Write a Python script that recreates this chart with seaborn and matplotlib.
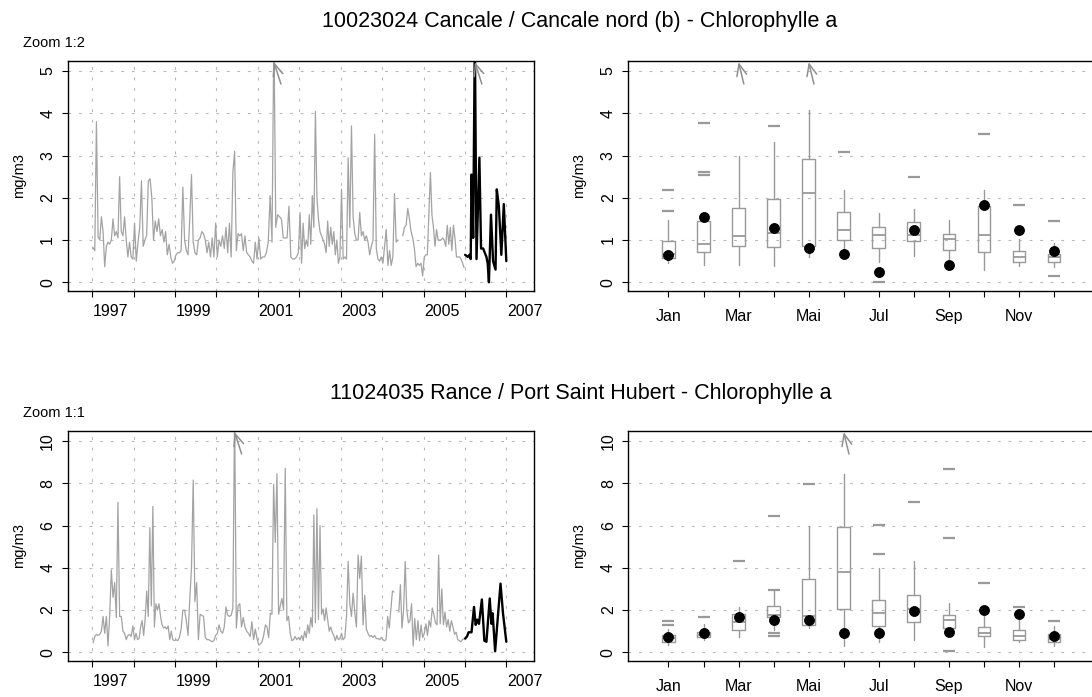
import numpy as np
import pandas as pd
import matplotlib
matplotlib.use("Agg")
import matplotlib.pyplot as plt
import matplotlib.transforms as mtransforms
import seaborn as sns

nan = np.nan

# --- Cancale, values per year, mg/m3
can_1997 = [0.82, 0.75, 3.8, 1.08, 1.0, 1.55, 1.2, 0.37, 0.85, 0.95, 0.9, 1.0, 1.5, 1.1, 1.2, 1.05, 2.5, 1.2, 1.1, 1.55, 1.0, 0.6, 0.95, 0.6, 0.55]
can_1998 = [1.4, 0.5, 0.95, 1.3, 2.4, 0.85, 1.0, 1.1, 2.4, 2.45, 2.0, 1.0, 1.45, 1.2, 1.5, 1.1, 1.25, 0.95, 1.2, 0.65, 0.9, 0.6, 0.45, 0.5]
can_1999 = [0.65, 0.7, 0.7, 0.75, 2.25, 1.0, 0.75, 0.65, 1.5, 2.55, 0.95, 0.7, 0.65, 1.0, 1.05, 1.2, 1.15, 1.0, 0.7, 0.95, 0.6, 1.05, 0.6, 1.4]
can_2000 = [0.6, 1.0, 0.85, 1.1, 0.8, 1.3, 0.7, 1.4, 0.6, 2.6, 3.1, 0.75, 1.15, 1.1, 1.15, 0.75, 1.1, 0.7, 0.65, 0.6, 0.5, 0.45, 0.95, 0.55]
can_2001 = [1.05, 0.55, 0.6, 0.6, 0.7, 0.95, 2.05, 0.95, 6.0, 1.3, 1.6, 1.55, 1.5, 1.05, 1.05, 1.05, 1.8, 0.6, 0.55, 0.55, 0.6, 0.7]
can_2002 = [1.65, 0.45, 1.4, 0.8, 1.0, 0.85, 1.6, 0.9, 2.05, 1.3, 4.05, 2.0, 1.5, 1.2, 1.1, 1.0, 0.9, 0.7, 1.45, 0.85, 1.3, 0.9, 1.2, 0.65, 1.0, 0.45, 0.6]
can_2003 = [2.2, 0.55, 0.6, 0.55, 2.95, 1.3, 3.7, 1.55, 1.15, 1.0, 1.0, 1.65, 1.1, 1.2, 1.0, 1.1, 0.95, 0.65, 0.85, 1.0, 3.5, 0.8, 0.55, 0.5, 0.6]
can_2004 = [0.45, 0.85, 1.25, 0.4, 0.75, 0.4, 0.6, 2.1, 0.95, 1.0, nan, nan, 1.1, 1.3, 1.35, 1.75, 1.5, 1.2, 1.05, 0.8, 0.37, 0.45, 0.4, 0.45, 0.15]
can_2005 = [0.6, 0.65, 0.65, 1.6, 2.6, 1.6, 1.3, 0.85, 1.25, 1.0, 1.0, 1.0, 1.05, 1.0, 0.85, 1.35, 0.9, 1.3, 0.75, 1.35, 1.05, 0.6, 0.6, 0.6, 0.55, 0.45, 0.35]
can_2006_t = [2006.005, 2006.07, 2006.11, 2006.14, 2006.16, 2006.2, 2006.24, 2006.28, 2006.35, 2006.39, 2006.44, 2006.48,
              2006.52, 2006.55, 2006.58, 2006.63, 2006.68, 2006.74, 2006.77, 2006.82, 2006.88, 2006.94, 2007.0]
can_2006_v = [0.65, 0.6, 0.65, 0.55, 2.55, 1.05, 5.9, 0.55, 2.95, 0.8, 0.8, 0.7, 0.6, 0.45, 0.0, 1.6, 0.5, 0.3, 2.2, 1.8, 0.65, 1.85, 0.5]

# --- Rance
ran_1997 = [0.45, 0.75, 0.85, 0.8, 0.85, 1.0, 1.7, 0.9, 1.7, 0.3, 1.75, 3.9, 2.6, 3.3, 1.65, 7.1, 1.7, 1.7, 1.0, 0.9, 0.6, 0.8, 0.85, 0.75, 1.25]
ran_1998 = [0.6, 0.9, 0.6, 0.65, 1.2, 1.5, 0.8, 1.6, 2.9, 1.7, 5.9, 2.2, 6.9, 1.2, 2.3, 2.0, 2.3, 1.7, 1.3, 1.15, 1.2, 1.1, 1.25, 0.6, 1.0, 0.6, 0.55]
ran_1999 = [0.6, 0.55, 0.7, 1.1, 2.0, 2.0, 1.5, 0.8, 2.5, 4.0, 8.15, 2.4, 3.3, 0.6, 1.8, 1.75, 1.7, 0.7, 0.6, 0.6, 0.55, 0.5, 0.55, 0.8]
ran_2000 = [0.9, 1.3, 1.0, 0.9, 1.2, 2.15, 1.75, 1.7, 1.75, 2.1, 11.5, 1.15, 2.2, 2.3, 1.2, 1.65, 1.2, 1.0, 0.9, 0.75, 1.45, 0.6, 1.1, 0.65]
ran_2001 = [0.35, 0.4, 0.5, 0.8, 1.3, 1.2, 0.7, 1.85, 1.8, 7.95, 5.2, 8.45, 1.8, 2.2, 2.55, 2.0, 8.7, 1.5, 1.7, 0.9, 0.55, 0.6, 0.75, 0.6, 0.7]
ran_2002 = [0.6, 0.8, 0.55, 1.0, 0.7, 1.3, 0.9, 1.65, 1.2, 6.5, 1.4, 6.8, 1.55, 6.0, 1.8, 2.05, 1.5, 2.1, 1.55, 1.0, 1.2, 0.95, 0.8, 0.55, 0.8, 0.6, 0.65]
ran_2003 = [0.9, 0.6, 0.7, 1.7, 4.3, 2.3, 1.7, 2.8, 1.9, 1.2, 4.6, 3.5, 4.55, 1.3, 2.7, 1.1, 0.9, 0.75, 0.8, 0.7, 0.8, 0.65, 0.65, 0.6, 0.7]
ran_2004 = [0.6, 0.55, 0.6, 1.7, 1.15, 2.0, 2.9, 2.85, nan, nan, 1.9, 3.2, 1.15, 2.0, 4.3, 2.0, 1.4, 1.5, 2.3, 0.3, 1.6, 0.6, 1.5, 0.55, 1.3, 0.7]
ran_2005 = [0.9, 1.35, 0.8, 1.5, 1.2, 2.1, 1.8, 1.4, 1.3, 4.6, 1.35, 3.0, 1.3, 1.9, 1.2, 1.55, 1.0, 1.5, 1.2, 0.85, 0.95, 0.6, 0.55, 0.5, 0.6, 0.65]
ran_2006_t = [2006.005, 2006.05, 2006.09, 2006.16, 2006.22, 2006.26, 2006.30, 2006.34, 2006.41, 2006.47, 2006.52, 2006.60,
              2006.64, 2006.67, 2006.73, 2006.86, 2006.92, 2007.0]
ran_2006_v = [0.65, 0.75, 0.95, 0.95, 2.15, 1.3, 1.55, 1.35, 2.5, 0.55, 0.5, 2.55, 1.35, 1.85, 0.05, 3.25, 1.85, 0.5]

# --- monthly boxplots (Jan..Dec)
months = ['Jan', 'Fév', 'Mar', 'Avr', 'Mai', 'Jun', 'Jul', 'Aoû', 'Sep', 'Oct', 'Nov', 'Déc']

can_whislo = [0.46, 0.40, 0.40, 0.38, 0.60, 0.72, 0.48, 0.63, 0.55, 0.28, 0.38, 0.36]
can_q1 = [0.57, 0.71, 0.87, 0.84, 0.87, 0.99, 0.80, 0.98, 0.76, 0.72, 0.48, 0.47]
can_med = [0.68, 0.91, 1.10, 1.17, 2.11, 1.24, 1.13, 1.13, 1.03, 1.13, 0.61, 0.59]
can_q3 = [0.97, 1.44, 1.76, 1.98, 2.92, 1.66, 1.30, 1.43, 1.14, 1.80, 0.73, 0.68]
can_whishi = [1.48, 1.44, 3.00, 3.31, 4.08, 2.19, 1.64, 1.74, 1.48, 2.19, 1.03, 0.94]
can_fliers = [[1.68, 2.19], [2.53, 2.62, 3.78], [], [3.71], [6.0], [3.09], [0.0], [2.50], [], [3.50], [1.84], [1.44, 0.14]]
can_2006_month = [0.64, 1.54, 5.6, 1.28, 0.82, 0.68, 0.25, 1.24, 0.40, 1.82, 1.24, 0.73]

ran_whislo = [0.36, 0.60, 0.72, 1.07, 1.15, 0.28, 0.47, 0.57, 0.85, 0.25, 0.47, 0.28]
ran_q1 = [0.47, 0.71, 1.06, 1.68, 1.31, 2.05, 1.24, 1.43, 1.15, 0.76, 0.60, 0.49]
ran_med = [0.68, 0.83, 1.43, 1.78, 1.73, 3.80, 1.84, 2.06, 1.54, 0.91, 0.76, 0.63]
ran_q3 = [0.82, 0.96, 1.81, 2.17, 3.45, 5.95, 2.46, 2.72, 1.75, 1.18, 1.07, 0.88]
ran_whishi = [1.10, 1.35, 2.14, 2.93, 6.00, 8.44, 4.00, 4.33, 2.33, 1.73, 1.60, 1.23]
ran_fliers = [[1.29, 1.46], [1.67], [4.33], [6.46, 2.95, 0.91, 0.77], [7.97], [11.5], [4.65, 6.02], [7.09],
              [0.05, 5.43, 8.68], [3.28], [2.14], [1.46]]
ran_2006_month = [0.71, 0.91, 1.65, 1.51, 1.51, 0.90, 0.90, 1.97, 0.96, 1.98, 1.81, 0.76]

GRAY = '#a3a3a3'
BOXGRAY = '#999999'
GRIDC = '#b8b8b8'

sns.set_style('white')
plt.rcParams['font.family'] = ['Liberation Sans', 'DejaVu Sans']
plt.rcParams['text.color'] = 'black'
plt.rcParams['axes.labelcolor'] = 'black'
plt.rcParams['xtick.color'] = 'black'
plt.rcParams['ytick.color'] = 'black'


def yearly(lists, first):
    t, v = [], []
    for k, vals in enumerate(lists):
        n = len(vals)
        for i, val in enumerate(vals):
            t.append(first + k + (i + 0.5) / n)
            v.append(val)
    return t, v


def draw_line(ax, t, v, color, lw):
    df = pd.DataFrame({'t': t, 'v': v})
    df['seg'] = df['v'].isna().cumsum()
    df = df.dropna()
    sns.lineplot(data=df, x='t', y='v', units='seg', estimator=None, color=color,
                 lw=lw, ax=ax, legend=False)


def up_arrow(ax, x, dx):
    tr = mtransforms.blended_transform_factory(ax.transData, ax.transAxes)
    ax.annotate('', xy=(x, 0.995), xycoords=tr, xytext=(x + dx, 0.90), textcoords=tr,
                annotation_clip=False,
                arrowprops=dict(arrowstyle='->,head_length=0.7,head_width=0.3', color='#909090',
                                lw=1.1, shrinkA=0, shrinkB=0, mutation_scale=12))


def style_axes(ax, ymax, ystep, ylim):
    ax.set_ylim(*ylim)
    ax.set_yticks(np.arange(0, ymax + 0.01, ystep))
    for s in ax.spines.values():
        s.set_color('black')
        s.set_linewidth(1.0)
    ax.tick_params(axis='both', which='major', direction='out', length=4, width=0.8,
                   color='black', labelcolor='black', labelsize=11.5, pad=5, bottom=True, left=True)
    ax.tick_params(axis='y', labelrotation=90)
    for lbl in ax.get_yticklabels():
        lbl.set_va('center')
    ax.grid(True, axis='y', which='major', color=GRIDC, lw=0.8, ls=(0, (2.5, 7)))
    ax.set_xlabel('')
    ax.set_ylabel('mg/m3', fontsize=10.5, color='black')


def time_panel(ax, gray_lists, bt, bv, ymax, ystep, ylim):
    gt, gv = yearly(gray_lists, 1997)
    draw_line(ax, gt, gv, GRAY, 0.9)
    draw_line(ax, bt, bv, 'black', 1.7)
    ax.set_xlim(1996.406, 2007.669)
    style_axes(ax, ymax, ystep, ylim)
    tick_years = list(range(1997, 2008))
    ax.set_xticks(tick_years)
    ax.set_xticklabels([])
    lab_years = tick_years[::2]
    ax.set_xticks([y + 0.44 for y in lab_years], minor=True)
    ax.set_xticklabels([str(y) for y in lab_years], minor=True)
    ax.tick_params(axis='x', which='minor', length=0, labelsize=11.5, labelcolor='black', pad=9)
    ax.grid(True, axis='x', which='major', color=GRIDC, lw=0.8, ls=(0, (2.5, 7)))
    top = ylim[1]
    for t, v in zip(gt + list(bt), gv + list(bv)):
        if v == v and v > top:
            up_arrow(ax, t, 0.17)
    ax.yaxis.set_label_coords(-0.104, 0.5)
    ax.yaxis.label.set_va('center')


def box_panel(ax, wlo, q1, med, q3, whi, fl, cur, ymax, ystep, ylim):
    pos = list(range(1, 13))
    stats = [dict(whislo=a, q1=b, med=c, q3=d, whishi=e, fliers=f)
             for a, b, c, d, e, f in zip(wlo, q1, med, q3, whi, fl)]
    ax.bxp(stats, positions=pos, widths=0.36, showcaps=False, manage_ticks=False,
           boxprops=dict(color=BOXGRAY, lw=1.0),
           whiskerprops=dict(color=BOXGRAY, lw=1.0),
           medianprops=dict(color=BOXGRAY, lw=1.3),
           flierprops=dict(marker='_', markeredgecolor=BOXGRAY, markersize=9, markeredgewidth=1.6))
    sns.scatterplot(x=pos, y=cur, color='black', s=52, edgecolor='black', ax=ax, zorder=5, legend=False)
    ax.set_xlim(-0.147, 14.17)
    style_axes(ax, ymax, ystep, ylim)
    ax.set_xticks(pos)
    ax.set_xticklabels([m if i % 2 == 0 else '' for i, m in enumerate(months)])
    ax.tick_params(axis='x', pad=9)
    top = ylim[1]
    for p, f, c in zip(pos, fl, cur):
        if max(f + [c]) > top:
            up_arrow(ax, p, 0.15)
    ax.yaxis.set_label_coords(-0.099, 0.5)
    ax.yaxis.label.set_va('center')


fig = plt.figure(figsize=(10.92, 6.97), dpi=100)
H = 697.0
W = 1092.0
ax1 = fig.add_axes([67.7 / W, 1 - 291 / H, (534 - 67.7) / W, 230 / H])
ax2 = fig.add_axes([628.3 / W, 1 - 291 / H, (1130 - 628.3) / W, 230 / H])
ax3 = fig.add_axes([67.7 / W, 1 - 661 / H, (534 - 67.7) / W, 230 / H])
ax4 = fig.add_axes([628.3 / W, 1 - 661 / H, (1130 - 628.3) / W, 230 / H])

time_panel(ax1, [can_1997, can_1998, can_1999, can_2000, can_2001, can_2002, can_2003, can_2004, can_2005],
           can_2006_t, can_2006_v, 5, 1, (-0.206, 5.237))
box_panel(ax2, can_whislo, can_q1, can_med, can_q3, can_whishi, can_fliers, can_2006_month, 5, 1, (-0.206, 5.237))
time_panel(ax3, [ran_1997, ran_1998, ran_1999, ran_2000, ran_2001, ran_2002, ran_2003, ran_2004, ran_2005],
           ran_2006_t, ran_2006_v, 10, 2, (-0.41, 10.473))
box_panel(ax4, ran_whislo, ran_q1, ran_med, ran_q3, ran_whishi, ran_fliers, ran_2006_month, 10, 2, (-0.41, 10.473))

fig.text(0.531, 1 - 21 / H, '10023024 Cancale / Cancale nord (b) - Chlorophylle a', ha='center', va='center', fontsize=15.5)
fig.text(0.532, 1 - 393 / H, '11024035 Rance / Port Saint Hubert - Chlorophylle a', ha='center', va='center', fontsize=15.5)
fig.text(22.7 / W, 1 - 42.7 / H, 'Zoom 1:2', ha='left', va='center', fontsize=10.5)
fig.text(22.7 / W, 1 - 412.7 / H, 'Zoom 1:1', ha='left', va='center', fontsize=10.5)

fig.savefig('out.png', dpi=100)
